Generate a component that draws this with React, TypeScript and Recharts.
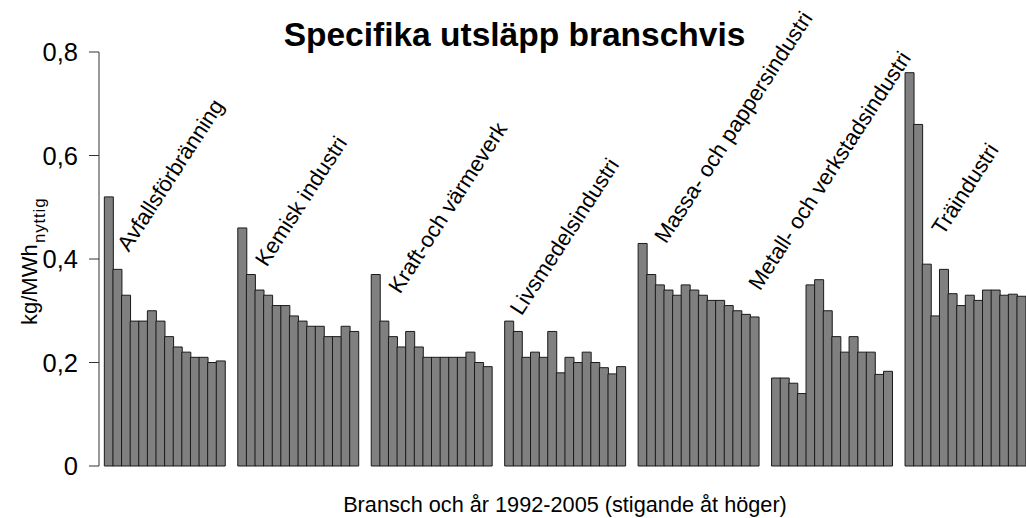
import React from 'react';
import { BarChart, Bar, XAxis, YAxis, ReferenceDot } from 'recharts';

const branches = [
  'Avfallsförbränning',
  'Kemisk industri',
  'Kraft-och värmeverk',
  'Livsmedelsindustri',
  'Massa- och pappersindustri',
  'Metall- och verkstadsindustri',
  'Träindustri',
];

const years = [1992, 1993, 1994, 1995, 1996, 1997, 1998, 1999, 2000, 2001, 2002, 2003, 2004, 2005];

// kg/MWh nyttig, 1992-2005 per bransch
const avfall = [0.52, 0.38, 0.33, 0.28, 0.28, 0.3, 0.28, 0.25, 0.23, 0.22, 0.21, 0.21, 0.2, 0.203];
const kemisk = [0.46, 0.37, 0.34, 0.33, 0.31, 0.31, 0.29, 0.28, 0.27, 0.27, 0.25, 0.25, 0.27, 0.26];
const kraft = [0.37, 0.28, 0.25, 0.23, 0.26, 0.23, 0.21, 0.21, 0.21, 0.21, 0.21, 0.22, 0.2, 0.192];
const livsmedel = [0.28, 0.26, 0.21, 0.22, 0.21, 0.26, 0.18, 0.21, 0.2, 0.22, 0.2, 0.19, 0.178, 0.192];
const massa = [0.43, 0.37, 0.35, 0.34, 0.33, 0.35, 0.34, 0.33, 0.32, 0.32, 0.31, 0.3, 0.293, 0.288];
const metall = [0.17, 0.17, 0.16, 0.14, 0.35, 0.36, 0.3, 0.25, 0.22, 0.25, 0.22, 0.22, 0.177, 0.183];
const tra = [0.76, 0.66, 0.39, 0.29, 0.38, 0.333, 0.31, 0.33, 0.32, 0.34, 0.34, 0.33, 0.332, 0.328];

const series = [avfall, kemisk, kraft, livsmedel, massa, metall, tra];

// where each branch name starts (x in bar slots, y in kg/MWh)
const labelSlot = [2.85, 18.85, 34.35, 48.45, 65.25, 76.15, 97.45];
const labelLevel = [0.412, 0.383, 0.331, 0.289, 0.428, 0.337, 0.444];

const yTicks = [0, 0.2, 0.4, 0.6, 0.8];

const GROUP_STEP = 15.5; // 14 bars + gap
const FONT = '"Liberation Sans", Arial, Helvetica, sans-serif';

const data = series.flatMap((vals, g) =>
  vals.map((v, i) => ({
    slot: g * GROUP_STEP + i + 0.5,
    branch: branches[g],
    year: years[i],
    value: v,
  }))
);

const fmt = (v: number) => (v === 0 ? '0' : v.toFixed(1).replace('.', ','));

const BranchName = (props: any) => {
  const { cx, cy, text } = props;
  return (
    <text
      x={cx}
      y={cy}
      fontSize={22}
      fontFamily={FONT}
      fill="#000"
      transform={`rotate(-57, ${cx}, ${cy})`}
    >
      {text}
    </text>
  );
};

const YTitle = (p: any) => {
  const vb = p.viewBox;
  const start = vb.y + vb.height / 2 + 66;
  const subStart = start - 82;
  return (
    <g>
      <text
        x={36.5}
        y={start}
        fontSize={22}
        fontFamily={FONT}
        fill="#000"
        transform={`rotate(-90, 36.5, ${start})`}
      >
        kg/MWh
      </text>
      <text
        x={45}
        y={subStart}
        fontSize={17}
        letterSpacing={0.8}
        fontFamily={FONT}
        fill="#000"
        transform={`rotate(-90, 45, ${subStart})`}
      >
        nyttig
      </text>
    </g>
  );
};

const XTitle = (p: any) => {
  const vb = p.viewBox;
  return (
    <text
      x={vb.x + vb.width / 2 + 2.5}
      y={vb.y + vb.height - 6.3}
      textAnchor="middle"
      fontSize={21.7}
      fontFamily={FONT}
      fill="#000"
    >
      Bransch och år 1992-2005 (stigande åt höger)
    </text>
  );
};

export default function App() {
  return (
    <div style={{ position: 'absolute', left: 0, top: 0, width: 1026, height: 518, overflow: 'hidden', background: '#fff' }}>
      <div
        style={{
          position: 'absolute',
          left: 0,
          top: 18,
          width: 1029,
          textAlign: 'center',
          fontFamily: FONT,
          fontWeight: 'bold',
          fontSize: 33.5,
          lineHeight: 1,
          color: '#000',
          zIndex: 2,
        }}
      >
        Specifika utsläpp branschvis
      </div>
      <BarChart
        width={1026}
        height={518}
        data={data}
        barCategoryGap={0}
        barGap={0}
        margin={{ top: 52, right: 0, bottom: 0, left: 0 }}
      >
        <XAxis
          dataKey="slot"
          type="number"
          domain={[-0.62, 107.05]}
          allowDataOverflow
          axisLine={false}
          tickLine={false}
          tick={false}
          height={52}
          label={{ content: XTitle }}
        />
        <YAxis
          type="number"
          domain={[0, 0.8]}
          ticks={yTicks}
          tickFormatter={fmt}
          width={99}
          tickSize={10}
          tickMargin={11}
          axisLine={{ stroke: '#333' }}
          tickLine={{ stroke: '#333' }}
          tick={{ fontSize: 25.5, fill: '#000', fontFamily: FONT }}
          label={{ content: YTitle }}
        />
        <Bar dataKey="value" fill="#808080" stroke="#1a1a1a" strokeWidth={1} isAnimationActive={false} />
        {branches.map((name, g) => (
          <ReferenceDot
            key={name}
            x={labelSlot[g]}
            y={labelLevel[g]}
            r={0}
            ifOverflow="visible"
            shape={(p: any) => <BranchName {...p} text={name} />}
          />
        ))}
      </BarChart>
    </div>
  );
}
